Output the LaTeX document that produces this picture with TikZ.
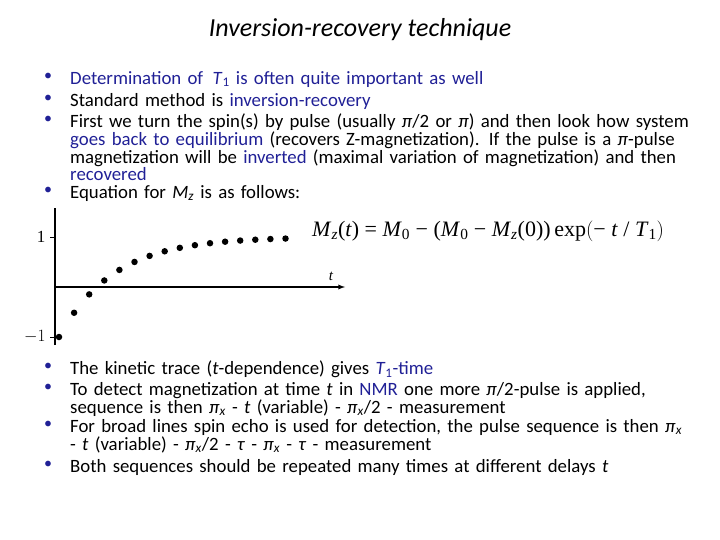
\documentclass[tikz,border=0pt]{standalone}
\usepackage{fontspec}
\setmainfont{Carlito}
\newfontfamily\eqfont{Liberation Serif}
\definecolor{hl}{RGB}{32,32,150}
\newcommand{\sbs}[1]{\textsubscript{#1}}
\begin{document}
\begin{tikzpicture}[x=1pt,y=-1pt,
  btxt/.style={anchor=north west,inner sep=0pt,font=\fontsize{18.8}{16.5}\selectfont,align=left,text width=660},
  bul/.style={anchor=north west,inner sep=0pt,font=\fontsize{16}{17}\selectfont,text=hl},
  dot/.style={circle,fill=black,inner sep=0pt,minimum size=6.5}]
\useasboundingbox (0,0) rectangle (720,540);
\node[font=\fontsize{26}{28}\selectfont\itshape] (title) at (360,30) {Inversion-recovery technique};
\node[bul] (b1) at (44,73) {•};
\node[btxt] (t1) at (70,71) {\textcolor{hl}{Determination of \,\textit{T}\sbs{1} is often quite important as well}};
\node[bul] (b2) at (44,95) {•};
\node[btxt] (t2) at (70,93) {Standard method is \textcolor{hl}{inversion-recovery}};
\node[bul] (b3) at (44,116) {•};
\node[btxt] (t3) at (70,114) {First we turn the spin(s) by pulse (usually \textit{π}/2 or \textit{π}) and then look how system\\
\textcolor{hl}{goes back to equilibrium} (recovers Z-magnetization). If the pulse is a \textit{π}-pulse\\
magnetization will be \textcolor{hl}{inverted} (maximal variation of magnetization) and then\\
\textcolor{hl}{recovered}};
\node[bul] (b4) at (44,187) {•};
\node[btxt] (t4) at (70,185) {Equation for \textit{M}\sbs{\textit{z}} is as follows:};
% plot
\coordinate (o) at (55,287);
\coordinate (ytop) at (55,208);
\coordinate (ybot) at (55,345);
\coordinate (xend) at (345,287);
\draw[line width=1.3] (ybot) -- (ytop);
\draw[line width=1.3,-latex] (o) -- (xend);
\draw[line width=1] (50,237) -- (55,237);
\draw[line width=1] (50,337) -- (55,337);
\node[anchor=east,font=\eqfont\fontsize{17}{17}\selectfont] (l1) at (49,237) {1};
\node[anchor=east,font=\eqfont\fontsize{17}{17}\selectfont] (lm1) at (49,337) {$-1$};
\node[font=\eqfont\itshape\fontsize{15}{15}\selectfont] (tl) at (331,276) {t};
\foreach \i in {0,...,15} {
  \pgfmathsetmacro\yy{287-50*(1-2*exp(-\i/3.6))}
  \node[dot] (d\i) at ({59+15.1*\i},\yy) {};
}
\node[anchor=west,font=\eqfont\fontsize{22}{22}\selectfont,inner sep=0pt] (eq) at (312,231)
 {\textit{M}\sbs{\textit{z}}(\textit{t}) = \textit{M}\sbs{0} − (\textit{M}\sbs{0} − \textit{M}\sbs{\textit{z}}(0))\,exp$\bigl($− \textit{t} / \textit{T}\sbs{1}$\bigr)$};
% bottom bullets
\node[bul] (b5) at (44,363) {•};
\node[btxt] (t5) at (70,361) {The kinetic trace (\textit{t}-dependence) gives \textcolor{hl}{\textit{T}\sbs{1}-time}};
\node[bul] (b6) at (44,384) {•};
\node[btxt] (t6) at (70,382) {To detect magnetization at time \textit{t} in \textcolor{hl}{NMR} one more \textit{π}/2-pulse is applied,\\
sequence is then \textit{π}\sbs{\textit{x}} - \textit{t} (variable) - \textit{π}\sbs{\textit{x}}/2 - measurement};
\node[bul] (b7) at (44,421) {•};
\node[btxt] (t7) at (70,419) {For broad lines spin echo is used for detection, the pulse sequence is then \textit{π}\sbs{\textit{x}}\\
- \textit{t} (variable) - \textit{π}\sbs{\textit{x}}/2 - \textit{τ} - \textit{π}\sbs{\textit{x}} - \textit{τ} - measurement};
\node[bul] (b8) at (44,461) {•};
\node[btxt] (t8) at (70,459) {Both sequences should be repeated many times at different delays \textit{t}};
\end{tikzpicture}
\end{document}
